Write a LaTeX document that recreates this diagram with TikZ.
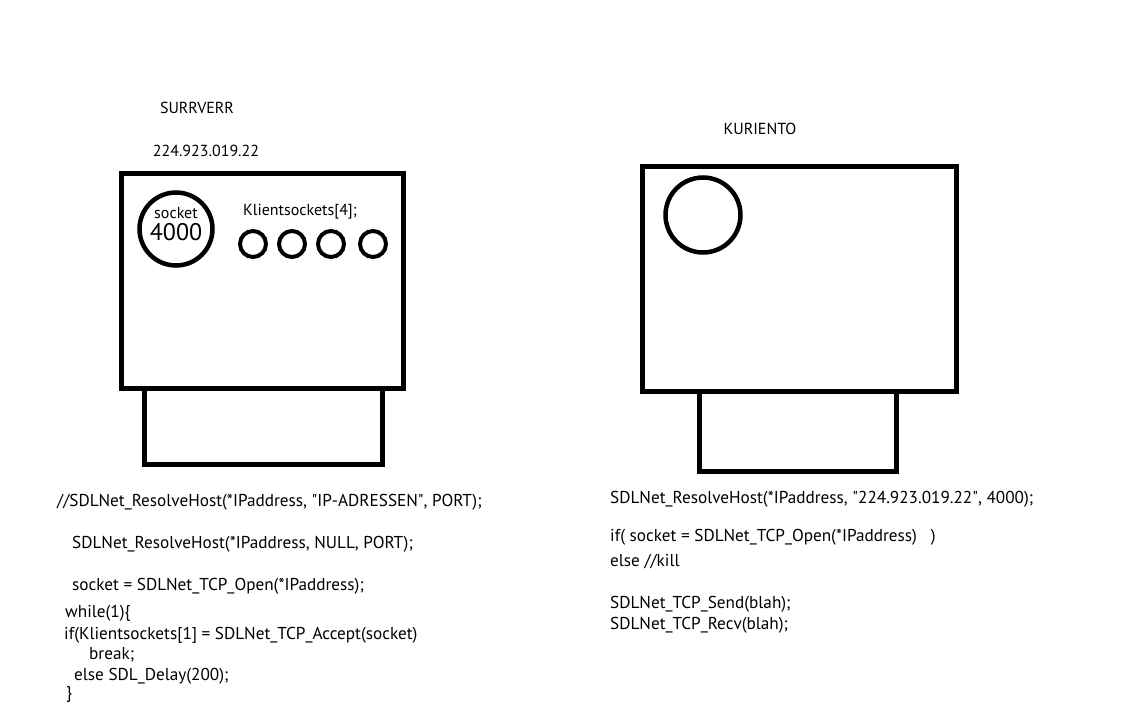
\documentclass[tikz,border=0pt]{standalone}
\usepackage{fontspec}
\setmainfont{PT Sans}
\newcommand\sq{\XeTeXglyph\the\XeTeXcharglyph"22\relax}
\begin{document}
\begin{tikzpicture}[x=1pt,y=-1pt,
  box/.style={draw=black,line width=5pt,line join=miter},
  ring/.style={draw=black,line width=4.5pt},
  code/.style={anchor=west,inner sep=0pt,font=\fontsize{17.2}{20}\selectfont},
  lbl/.style={inner sep=0pt,font=\fontsize{16}{20}\selectfont}]
\useasboundingbox[fill=white] (0,0) rectangle (1144,728);
% server
\draw[box] (121,173) rectangle (403.5,388.5);
\draw[box] (144.5,388.5) rectangle (382.5,464.5);
\draw[ring] (176,229) circle (36.5);
\node[lbl] (sockl) at (176,213) {socket};
\node[inner sep=0pt,font=\fontsize{24}{24}\selectfont] (sockn) at (176,232) {4000};
\foreach \x in {253,292,331,373}{
  \draw[ring,line width=4pt] (\x,244) circle (13);
}
\node[lbl] (klient) at (300,212) {Klientsockets[4];};
\node[lbl] (srv) at (197,108) {SURRVERR};
\node[lbl] (ip) at (206,151) {224.923.019.22};
% client
\draw[box] (642.5,166.5) rectangle (956.5,391.5);
\draw[box] (699.5,391.5) rectangle (896.5,471.5);
\draw[ring] (703,215) circle (37.5);
\node[lbl] (cli) at (760,129) {KURIENTO};
% server code
\node[code] (s1) at (57,502) {//SDLNet\_ResolveHost(*IPaddress, \sq IP-ADRESSEN\sq, PORT);};
\node[code] (s2) at (72,544) {SDLNet\_ResolveHost(*IPaddress, NULL, PORT);};
\node[code] (s3) at (72,586) {socket = SDLNet\_TCP\_Open(*IPaddress);};
\node[code] (s4) at (65,613) {while(1)\{};
\node[code] (s5) at (64,635) {if(Klientsockets[1] = SDLNet\_TCP\_Accept(socket)};
\node[code] (s6) at (89,655) {break;};
\node[code] (s7) at (74,676) {else SDL\_Delay(200);};
\node[code] (s8) at (66,694) {\}};
% client code
\node[code] (c1) at (610,499) {SDLNet\_ResolveHost(*IPaddress, \sq 224.923.019.22\sq, 4000);};
\node[code] (c2) at (610,537) {if( socket = SDLNet\_TCP\_Open(*IPaddress)\ \ \ )};
\node[code] (c3) at (610,562) {else //kill};
\node[code] (c4) at (610,604) {SDLNet\_TCP\_Send(blah);};
\node[code] (c5) at (610,625) {SDLNet\_TCP\_Recv(blah);};
\end{tikzpicture}
\end{document}
